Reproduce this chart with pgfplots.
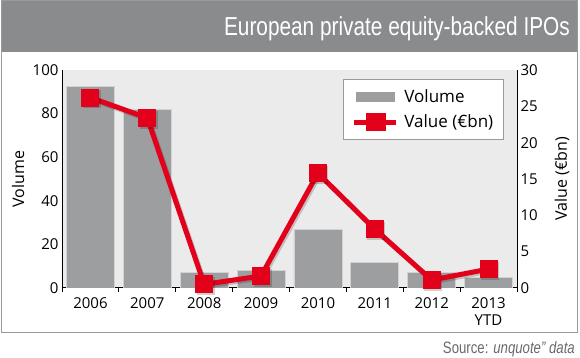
\documentclass[border=0pt]{standalone}
\usepackage{pgfplots}
\pgfplotsset{compat=1.18}
\usepackage{fontspec}
\setmainfont{Open Sans}
\newfontfamily\condfont[FakeStretch=0.8]{Liberation Sans}
\definecolor{hdr}{HTML}{8A8B8D}
\definecolor{bgp}{HTML}{EBEBEB}
\definecolor{barc}{HTML}{9D9E9F}
\definecolor{redc}{HTML}{E2001A}
\definecolor{framec}{HTML}{9A9A9A}
\definecolor{srcc}{HTML}{6A6A6A}
\begin{document}
\begin{tikzpicture}[x=1pt,y=1pt]
\path[use as bounding box] (0pt,0pt) rectangle (580pt,358pt);
\fill[white] (0pt,0pt) rectangle (580pt,358pt);
\fill[hdr] (1.5pt,306pt) rectangle (577.5pt,358pt);
\draw[framec, line width=1pt] (1.5pt,25pt) rectangle (577.5pt,357.5pt);
\node[anchor=base east, text=white, font=\condfont\fontsize{26}{26}\selectfont, inner sep=0] at (570pt,322pt) {European private equity-backed IPOs};
\node[anchor=base east, text=srcc, font=\condfont\fontsize{16.5}{16.5}\selectfont, inner sep=0] at (575pt,4pt) {Source: \textit{unquote” data}};

\begin{axis}[at={(62pt,70pt)}, anchor=south west, width=455pt, height=218pt, scale only axis,
  xmin=-0.5, xmax=7.5, ymin=0, ymax=100,
  axis lines*=left,
  axis line style={line width=1pt, black},
  axis background/.style={fill=bgp},
  ybar, bar width=48pt, bar shift=0pt,
  xtick={-0.5,0.5,...,7.5}, x tick label as interval,
  xticklabels={2006,2007,2008,2009,2010,2011,2012,{2013\\[1pt]YTD}},
  xticklabel style={align=center, anchor=north, yshift=-2pt},
  x tick style={black, line width=1pt}, major tick length=4pt,
  ytick={0,20,...,100}, ytick style={draw=none},
  /pgf/number format/assume math mode=true,
  tick label style={font=\fontsize{15}{16}\selectfont},
  ylabel={Volume},
  every axis y label/.style={at={(axis description cs:-0.0967,0.5)}, anchor=center, rotate=90, font=\fontsize{16}{17}\selectfont},
]
\addplot[fill=barc, draw=white!55!barc, line width=0.8pt] coordinates {
  (0,92.3) (1,82) (2,7) (3,8.1) (4,26.9) (5,11.8) (6,7) (7,5)
};
\end{axis}

\begin{axis}[at={(62pt,70pt)}, anchor=south west, width=455pt, height=218pt, scale only axis,
  xmin=-0.5, xmax=7.5, ymin=0, ymax=30,
  axis x line=none, axis y line*=right,
  axis line style={line width=1pt, black},
  ytick={0,5,...,30}, ytick style={draw=none},
  /pgf/number format/assume math mode=true,
  tick label style={font=\fontsize{15}{16}\selectfont},
  ylabel={Value (€bn)},
  every axis y label/.style={at={(axis description cs:1.0989,0.5)}, anchor=center, rotate=90, font=\fontsize{16}{17}\selectfont},
  legend style={at={(0.6176,0.9587)}, anchor=north west, draw=framec, fill=white, line width=0.8pt,
    font=\fontsize{17}{18}\selectfont, row sep=7pt, inner xsep=8pt, inner ysep=8pt,
    nodes={inner sep=2pt}, column sep=4pt},
  legend cell align=left,
]
\addlegendimage{legend image code/.code={\fill[barc] (0pt,-4.5pt) rectangle (38pt,4.5pt);}}
\addlegendentry{Volume}
\addplot[black, opacity=0.18, line width=5pt, mark=square*, mark size=6.5pt,
  mark options={draw=none, fill=black}, forget plot, xshift=1.5pt, yshift=-1.8pt] coordinates {
  (0,26.2) (1,23.4) (2,0.5) (3,1.65) (4,15.8) (5,8.1) (6,1.1) (7,2.6)
};
\addplot[redc, line width=5pt, mark=square*, mark size=6.5pt, mark options={draw=none, fill=redc},
  legend image code/.code={\draw[redc, line width=5pt] (-2pt,0) -- (40pt,0); \fill[redc] (13pt,-6.5pt) rectangle (28pt,6.5pt);}] coordinates {
  (0,26.2) (1,23.4) (2,0.5) (3,1.65) (4,15.8) (5,8.1) (6,1.1) (7,2.6)
};
\addlegendentry{Value (€bn)}
\end{axis}
\end{tikzpicture}
\end{document}
